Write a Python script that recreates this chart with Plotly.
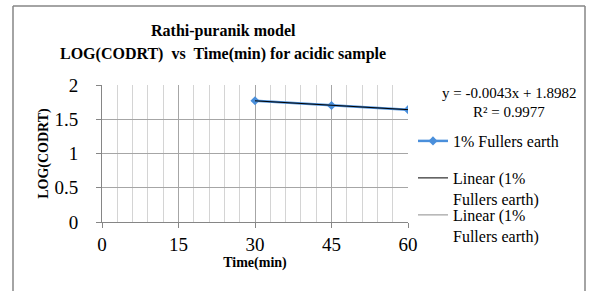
import plotly.graph_objects as go

time_min = [30, 45, 60]
log_codrt = [1.77, 1.70, 1.64]
trend_x = [30, 45, 60]
trend_y = [1.769, 1.705, 1.640]
series_name = "1% Fullers earth"
trend_name = "Linear (1%<br>Fullers earth)"
x_ticks = [0, 15, 30, 45, 60]
y_ticks = [0, 0.5, 1, 1.5, 2]

W, H = 590, 291
ml, mt = 102, 85
mr = W - 408
mb = H - 222
pw, ph = W - ml - mr, H - mt - mb

def px(x):
    return (x - ml) / pw

def py(y):
    return (H - mb - y) / ph

FONT = "Liberation Serif"
BLUE = "#4A8FDB"
BORDER = "#868686"

fig = go.Figure()
fig.add_trace(go.Scatter(x=trend_x, y=trend_y, mode="lines", name=trend_name,
                         line=dict(color="#8C8C8C", width=1), legend="legend3"))
fig.add_trace(go.Scatter(x=time_min, y=log_codrt, mode="lines+markers", name=series_name,
                         line=dict(color=BLUE, width=2.5),
                         marker=dict(symbol="diamond", size=7, color=BLUE), legend="legend"))
fig.add_trace(go.Scatter(x=trend_x, y=trend_y, mode="lines", name=trend_name,
                         line=dict(color="#000000", width=1), legend="legend2"))

def leg(ytop):
    return dict(x=px(413), y=py(ytop), xanchor="left", yanchor="top", valign="top",
                font=dict(family=FONT, size=16, color="black"),
                bgcolor="rgba(0,0,0,0)", itemwidth=30, borderwidth=0)

border = [
    dict(type="line", xref="paper", yref="paper", x0=px(13), x1=px(585), y0=py(6), y1=py(6),
         line=dict(color=BORDER, width=1.5)),
    dict(type="line", xref="paper", yref="paper", x0=px(13), x1=px(13), y0=py(6), y1=py(295),
         line=dict(color=BORDER, width=1.5)),
    dict(type="line", xref="paper", yref="paper", x0=px(585), x1=px(585), y0=py(6), y1=py(295),
         line=dict(color=BORDER, width=1.5)),
]

fig.update_layout(
    width=W, height=H,
    margin=dict(l=ml, r=mr, t=mt, b=mb),
    paper_bgcolor="white", plot_bgcolor="white",
    font=dict(family=FONT, color="black"),
    showlegend=True,
    legend=leg(124),
    legend2=leg(161),
    legend3=leg(198),
    xaxis=dict(range=[0, 60], tickvals=x_ticks, ticktext=[str(v) for v in x_ticks],
               showgrid=True, gridcolor="#A6A6A6", gridwidth=1,
               minor=dict(dtick=3, showgrid=True, gridcolor="#D4D4D4", gridwidth=1),
               ticks="outside", ticklen=5, tickcolor="#868686",
               showline=True, linecolor="#868686", zeroline=False,
               tickfont=dict(family=FONT, size=19),
               title=dict(text="<b>Time(min)</b>", font=dict(family=FONT, size=14), standoff=0)),
    yaxis=dict(range=[0, 2], tickvals=y_ticks, ticktext=["0", "0.5", "1", "1.5", "2"],
               showgrid=True, gridcolor="#A6A6A6", gridwidth=1,
               ticks="outside", ticklen=5, tickcolor="#868686",
               showline=True, linecolor="#868686", zeroline=False, mirror=False,
               ticklabelstandoff=14,
               tickfont=dict(family=FONT, size=19),
               title=dict(text="<b>LOG(CODRT)</b>", font=dict(family=FONT, size=14), standoff=2)),
    shapes=border,
    annotations=[
        dict(text="<b>Rathi-puranik model</b>", xref="paper", yref="paper",
             x=px(223), y=py(31), xanchor="center", yanchor="middle", showarrow=False,
             font=dict(family=FONT, size=16)),
        dict(text="<b>LOG(CODRT)  vs  Time(min) for acidic sample</b>", xref="paper", yref="paper",
             x=px(223), y=py(54), xanchor="center", yanchor="middle", showarrow=False,
             font=dict(family=FONT, size=16)),
        dict(text="y = -0.0043x + 1.8982", xref="paper", yref="paper",
             x=px(509), y=py(93), xanchor="center", yanchor="middle", showarrow=False,
             font=dict(family=FONT, size=15)),
        dict(text="R² = 0.9977", xref="paper", yref="paper",
             x=px(509), y=py(112), xanchor="center", yanchor="middle", showarrow=False,
             font=dict(family=FONT, size=15)),
    ],
)

fig.write_html("out.html",
               config={"displayModeBar": False},
               post_script="document.body.style.margin='0';document.body.style.overflow='hidden';")
